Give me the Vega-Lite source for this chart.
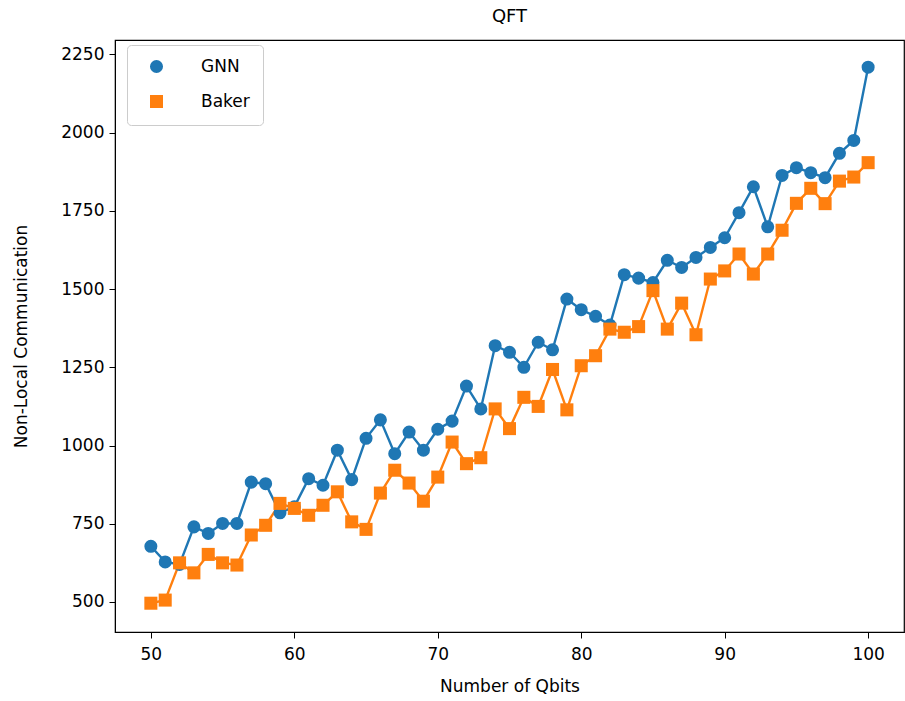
{
  "$schema": "https://vega.github.io/schema/vega-lite/v6.json",
  "width": 789,
  "height": 592,
  "autosize": {"type": "none"},
  "padding": {"left": 115, "top": 40, "right": 1, "bottom": 69},
  "title": {"text": "QFT", "fontSize": 18, "fontWeight": "normal", "font": "DejaVu Sans", "color": "black", "offset": 14},
  "config": {
    "font": "DejaVu Sans",
    "view": {"stroke": "black", "strokeWidth": 1.2},
    "axis": {
      "grid": false, "domainColor": "black", "tickColor": "black", "tickSize": 6,
      "labelFontSize": 17, "labelColor": "black", "titleFontSize": 17, "titleFontWeight": "normal",
      "titleColor": "black", "labelFont": "DejaVu Sans", "titleFont": "DejaVu Sans", "labelPadding": 5
    }
  },
  "data": {"values": [
    {"q":50,"s":"GNN","v":678},{"q":51,"s":"GNN","v":628},{"q":52,"s":"GNN","v":620},{"q":53,"s":"GNN","v":740},{"q":54,"s":"GNN","v":719},
    {"q":55,"s":"GNN","v":751},{"q":56,"s":"GNN","v":751},{"q":57,"s":"GNN","v":883},{"q":58,"s":"GNN","v":878},{"q":59,"s":"GNN","v":785},
    {"q":60,"s":"GNN","v":804},{"q":61,"s":"GNN","v":894},{"q":62,"s":"GNN","v":873},{"q":63,"s":"GNN","v":985},{"q":64,"s":"GNN","v":891},
    {"q":65,"s":"GNN","v":1023},{"q":66,"s":"GNN","v":1082},{"q":67,"s":"GNN","v":974},{"q":68,"s":"GNN","v":1043},{"q":69,"s":"GNN","v":985},
    {"q":70,"s":"GNN","v":1052},{"q":71,"s":"GNN","v":1078},{"q":72,"s":"GNN","v":1190},{"q":73,"s":"GNN","v":1117},{"q":74,"s":"GNN","v":1319},
    {"q":75,"s":"GNN","v":1298},{"q":76,"s":"GNN","v":1250},{"q":77,"s":"GNN","v":1330},{"q":78,"s":"GNN","v":1306},{"q":79,"s":"GNN","v":1468},
    {"q":80,"s":"GNN","v":1434},{"q":81,"s":"GNN","v":1413},{"q":82,"s":"GNN","v":1385},{"q":83,"s":"GNN","v":1546},{"q":84,"s":"GNN","v":1535},
    {"q":85,"s":"GNN","v":1521},{"q":86,"s":"GNN","v":1592},{"q":87,"s":"GNN","v":1569},{"q":88,"s":"GNN","v":1601},{"q":89,"s":"GNN","v":1633},
    {"q":90,"s":"GNN","v":1664},{"q":91,"s":"GNN","v":1744},{"q":92,"s":"GNN","v":1827},{"q":93,"s":"GNN","v":1699},{"q":94,"s":"GNN","v":1863},
    {"q":95,"s":"GNN","v":1888},{"q":96,"s":"GNN","v":1872},{"q":97,"s":"GNN","v":1856},{"q":98,"s":"GNN","v":1934},{"q":99,"s":"GNN","v":1975},
    {"q":100,"s":"GNN","v":2209},
    {"q":50,"s":"Baker","v":496},{"q":51,"s":"Baker","v":506},{"q":52,"s":"Baker","v":625},{"q":53,"s":"Baker","v":593},{"q":54,"s":"Baker","v":652},
    {"q":55,"s":"Baker","v":625},{"q":56,"s":"Baker","v":618},{"q":57,"s":"Baker","v":714},{"q":58,"s":"Baker","v":745},{"q":59,"s":"Baker","v":815},
    {"q":60,"s":"Baker","v":799},{"q":61,"s":"Baker","v":777},{"q":62,"s":"Baker","v":809},{"q":63,"s":"Baker","v":852},{"q":64,"s":"Baker","v":756},
    {"q":65,"s":"Baker","v":732},{"q":66,"s":"Baker","v":848},{"q":67,"s":"Baker","v":921},{"q":68,"s":"Baker","v":880},{"q":69,"s":"Baker","v":822},
    {"q":70,"s":"Baker","v":899},{"q":71,"s":"Baker","v":1011},{"q":72,"s":"Baker","v":942},{"q":73,"s":"Baker","v":961},{"q":74,"s":"Baker","v":1117},
    {"q":75,"s":"Baker","v":1054},{"q":76,"s":"Baker","v":1154},{"q":77,"s":"Baker","v":1125},{"q":78,"s":"Baker","v":1243},{"q":79,"s":"Baker","v":1114},
    {"q":80,"s":"Baker","v":1255},{"q":81,"s":"Baker","v":1287},{"q":82,"s":"Baker","v":1372},{"q":83,"s":"Baker","v":1362},{"q":84,"s":"Baker","v":1380},
    {"q":85,"s":"Baker","v":1495},{"q":86,"s":"Baker","v":1372},{"q":87,"s":"Baker","v":1455},{"q":88,"s":"Baker","v":1354},{"q":89,"s":"Baker","v":1532},
    {"q":90,"s":"Baker","v":1558},{"q":91,"s":"Baker","v":1612},{"q":92,"s":"Baker","v":1548},{"q":93,"s":"Baker","v":1612},{"q":94,"s":"Baker","v":1688},
    {"q":95,"s":"Baker","v":1774},{"q":96,"s":"Baker","v":1822},{"q":97,"s":"Baker","v":1773},{"q":98,"s":"Baker","v":1845},{"q":99,"s":"Baker","v":1858},
    {"q":100,"s":"Baker","v":1904}
  ]},
  "encoding": {
    "x": {"field": "q", "type": "quantitative", "title": "Number of Qbits",
      "scale": {"domain": [47.5, 102.5], "nice": false, "zero": false},
      "axis": {"values": [50, 60, 70, 80, 90, 100], "titlePadding": 16, "labelPadding": 8, "format": "d"}},
    "y": {"field": "v", "type": "quantitative", "title": "Non-Local Communication",
      "scale": {"domain": [404, 2296], "nice": false, "zero": false},
      "axis": {"values": [500, 750, 1000, 1250, 1500, 1750, 2000, 2250], "titlePadding": 30, "format": "d"}}
  },
  "layer": [
    {
      "transform": [{"filter": "datum.s === 'GNN'"}],
      "mark": {"type": "line", "strokeWidth": 2.4, "color": "#1f77b4"},
      "encoding": {}
    },
    {
      "transform": [{"filter": "datum.s === 'Baker'"}],
      "mark": {"type": "line", "strokeWidth": 2.4, "color": "#ff7f0e"},
      "encoding": {}
    },
    {
      "mark": {"type": "point", "filled": true, "opacity": 1, "size": 170},
      "encoding": {
        "color": {"field": "s", "type": "nominal", "scale": {"domain": ["GNN", "Baker"], "range": ["#1f77b4", "#ff7f0e"]},
          "legend": {"title": null, "orient": "none", "legendX": 12, "legendY": 5, "fillColor": "white", "strokeColor": "#cccccc",
            "cornerRadius": 4, "padding": 13, "labelFontSize": 17, "labelColor": "black", "symbolSize": 170, "rowPadding": 14,
            "symbolOffset": 8, "labelOffset": 36, "symbolOpacity": 1, "labelFont": "DejaVu Sans"}},
        "shape": {"field": "s", "type": "nominal", "scale": {"domain": ["GNN", "Baker"], "range": ["circle", "square"]}}
      }
    }
  ]
}
